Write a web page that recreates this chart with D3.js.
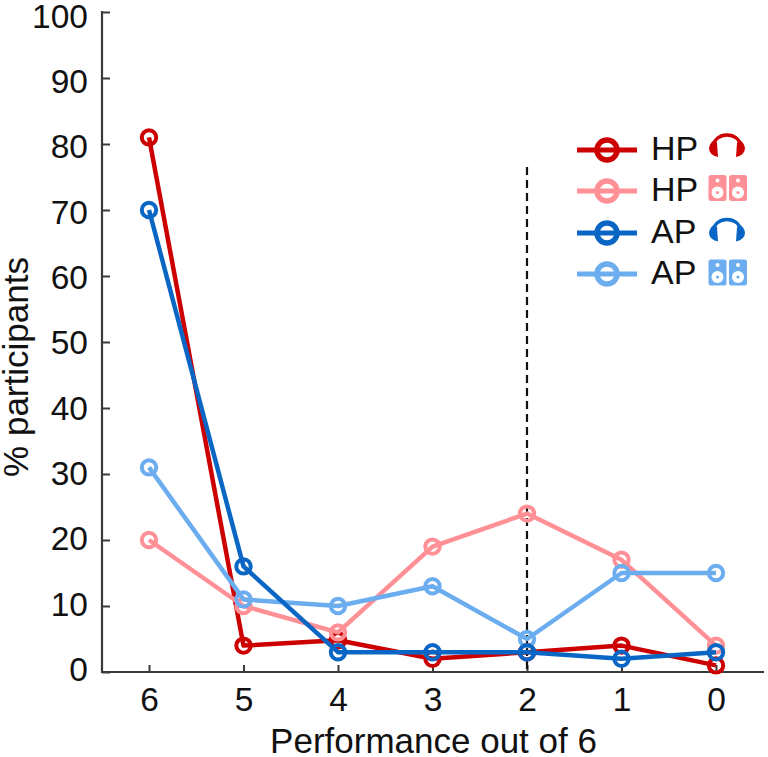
<!DOCTYPE html>
<html><head><meta charset="utf-8">
<script src="https://cdn.jsdelivr.net/npm/d3@7"></script>
<style>html,body{margin:0;padding:0;background:#fff}svg{display:block}text{font-family:"Liberation Sans",Arial,sans-serif;fill:#111}</style>
</head><body><svg id="c" width="768" height="757"></svg>
<script>
const categories = [6,5,4,3,2,1,0];
const yTicks = [0,10,20,30,40,50,60,70,80,90,100];
const hpHeadphones = [81,4,4.8,2,3,4,1];
const hpSpeakers = [20,10,6,19,24,17,4];
const apHeadphones = [70,16,3,3,3,2,3];
const apSpeakers = [31,11,10,13,5,15,15];
const thresholdCategory = 2;
const thresholdTop = 76.5;
const seriesDraw = [
  {name:"HP",icon:"headphones",color:"#CC0000",values:hpHeadphones,legend:0},
  {name:"HP",icon:"speakers",color:"#FF9096",values:hpSpeakers,legend:1},
  {name:"AP",icon:"speakers",color:"#6CADF0",values:apSpeakers,legend:3},
  {name:"AP",icon:"headphones",color:"#0A66C4",values:apHeadphones,legend:2}
];
const svg = d3.select("#c");
const x = d3.scalePoint().domain(categories).range([149,716]);
const y = d3.scaleLinear().domain([0,100]).range([672,12]);
const yLabelPos = d3.scaleLinear().domain([0,100]).range([668.5,15]);
const axisColor = "#3a3a3a";
const fs = "35px";
const tickFs = "33.5px";

const xAxis = svg.append("g").attr("transform","translate(0,672)")
  .call(d3.axisBottom(x).tickSize(-7).tickPadding(15));
xAxis.select(".domain").remove();
xAxis.append("line").attr("x1",101).attr("x2",764).attr("stroke",axisColor).attr("stroke-width",2.2);
const yAxis = svg.append("g").attr("transform","translate(102,0)")
  .call(d3.axisLeft(y).tickValues(yTicks).tickSize(-8).tickPadding(14));
yAxis.select(".domain").remove();
yAxis.append("line").attr("y1",11).attr("y2",673).attr("stroke",axisColor).attr("stroke-width",2.2);
yAxis.selectAll(".tick text").attr("dy","0.358em").attr("y",d=>yLabelPos(d)-y(d));
[xAxis,yAxis].forEach(a=>{
  a.selectAll(".tick line").attr("stroke",axisColor).attr("stroke-width",2);
  a.selectAll(".tick text").style("font-size",tickFs).style("font-family",'"Liberation Sans",Arial,sans-serif').attr("fill","#111");
});
svg.append("text").attr("x",433.5).attr("y",753).attr("text-anchor","middle").style("font-size",fs).text("Performance out of 6");
svg.append("text").attr("transform","translate(28,367) rotate(-90)").attr("text-anchor","middle").style("font-size",fs).text("% participants");

svg.append("line").attr("x1",x(thresholdCategory)).attr("x2",x(thresholdCategory))
  .attr("y1",y(thresholdTop)).attr("y2",y(0)).attr("stroke","#111").attr("stroke-width",2.2).attr("stroke-dasharray","8,5");

const line = d3.line().x((d,i)=>x(categories[i])).y(d=>y(d));
seriesDraw.forEach(s=>{
  const g = svg.append("g");
  g.append("path").datum(s.values).attr("d",line).attr("fill","none").attr("stroke",s.color).attr("stroke-width",4.5).attr("stroke-linejoin","round");
  g.selectAll("circle").data(s.values).join("circle")
    .attr("cx",(d,i)=>x(categories[i])).attr("cy",d=>y(d)).attr("r",7.2)
    .attr("fill","none").attr("stroke",s.color).attr("stroke-width",4);
});

const legendY = [150,191,233,274];
const iconShift = [-5,-3,-3.5,-1.5];
seriesDraw.slice().sort((a,b)=>a.legend-b.legend).forEach(s=>{
  const ly = legendY[s.legend];
  const g = svg.append("g").attr("transform",`translate(0,${ly})`);
  g.append("line").attr("x1",577).attr("x2",637).attr("stroke",s.color).attr("stroke-width",5);
  g.append("circle").attr("cx",607).attr("r",10).attr("fill","none").attr("stroke",s.color).attr("stroke-width",5.5);
  g.append("text").attr("x",s.name==="HP"?651:651).attr("y",9.5).style("font-size","34px").text(s.name);
  const ic = g.append("g").attr("transform",`translate(727,${iconShift[s.legend]})`);
  if(s.icon==="headphones"){
    ic.append("path").attr("d","M-13.5,2 C-13.5,-14 13.5,-14 13.5,2").attr("fill","none").attr("stroke",s.color).attr("stroke-width",3.5);
    ic.append("path").attr("d","M-10,-2 L-9,12 Q-18,10 -18,3 Q-17,-3 -12,-5Z").attr("fill",s.color);
    ic.append("path").attr("d","M10,-2 L9,12 Q18,10 18,3 Q17,-3 12,-5Z").attr("fill",s.color);
  } else {
    [-9.5,11].forEach(cx=>{
      const sp = ic.append("g").attr("transform",`translate(${cx},0)`);
      sp.append("rect").attr("x",-9).attr("y",-13).attr("width",18).attr("height",26).attr("rx",2.5).attr("fill",s.color);
      sp.append("circle").attr("cy",-7.5).attr("r",2).attr("fill","#fff");
      sp.append("circle").attr("cy",4.5).attr("r",6).attr("fill","#fff");
      sp.append("circle").attr("cy",4.5).attr("r",1.6).attr("fill",s.color);
    });
  }
});
</script></body></html>
